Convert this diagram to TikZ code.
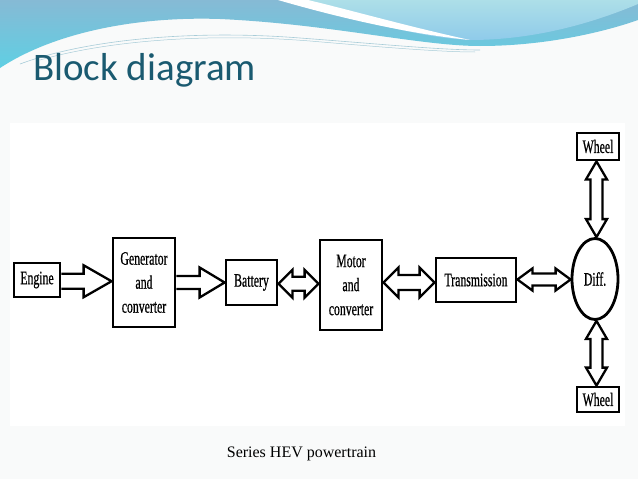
\documentclass[tikz,border=0pt]{standalone}
\usepackage{fontspec}
\setmainfont{Liberation Serif}
\newfontfamily\boxfont[FakeStretch=0.62,FakeBold=0.6]{Liberation Serif}
\newfontfamily\titlefont{Carlito}
\usetikzlibrary{shapes.geometric,calc}
\definecolor{titleblue}{HTML}{1A5A70}
\definecolor{slidebg}{HTML}{F9FAFA}
\definecolor{bandtop}{HTML}{86BAD5}
\definecolor{bandbot}{HTML}{5FCFE3}
\definecolor{lighttop}{HTML}{ADDFE8}
\definecolor{lightbot}{HTML}{8FCBEA}
\definecolor{thinline}{HTML}{A8CCD8}

% horizontal single block arrow: src, tgt, shaft half, head half, head length
\newcommand\hsingle[5]{%
  \draw[arr] let \p1=(#1.east), \p2=(#2.west), \p3=($(\p1)!.5!(\p2)$) in
    (\x1,\y3+#3) -- (\x2-#5,\y3+#3) -- (\x2-#5,\y3+#4) -- (\x2,\y3)
    -- (\x2-#5,\y3-#4) -- (\x2-#5,\y3-#3) -- (\x1,\y3-#3);}
% horizontal double block arrow
\newcommand\hdouble[5]{%
  \draw[arr] let \p1=(#1.east), \p2=(#2.west), \p3=($(\p1)!.5!(\p2)$) in
    (\x1,\y3) -- (\x1+#5,\y3+#4) -- (\x1+#5,\y3+#3) -- (\x2-#5,\y3+#3)
    -- (\x2-#5,\y3+#4) -- (\x2,\y3) -- (\x2-#5,\y3-#4) -- (\x2-#5,\y3-#3)
    -- (\x1+#5,\y3-#3) -- (\x1+#5,\y3-#4) -- cycle;}
% vertical double block arrow: upper node, lower node
\newcommand\vdouble[5]{%
  \draw[arr] let \p1=(#1.south), \p2=(#2.north), \p3=($(\p1)!.5!(\p2)$) in
    (\x3,\y1) -- (\x3+#4,\y1-#5) -- (\x3+#3,\y1-#5) -- (\x3+#3,\y2+#5)
    -- (\x3+#4,\y2+#5) -- (\x3,\y2) -- (\x3-#4,\y2+#5) -- (\x3-#3,\y2+#5)
    -- (\x3-#3,\y1-#5) -- (\x3-#4,\y1-#5) -- cycle;}

\begin{document}
\begin{tikzpicture}[x=1pt,y=-1pt,
  blk/.style={draw=black, line width=2.8pt, fill=white, inner sep=0pt,
    font=\boxfont\fontsize{19}{24}\selectfont, align=center},
  arr/.style={draw=black, line width=2.3pt, line join=miter, fill=white}]
\useasboundingbox (0,0) rectangle (638,479);
\fill[slidebg] (0,0) rectangle (638,479);
\fill[white] (10,123) rectangle (625,426);

% top waves
\shade[top color=bandtop, bottom color=bandbot]
  (0,68) .. controls (50,35) and (130,16) .. (220,19)
  .. controls (330,24) and (420,46) .. (480,46)
  .. controls (550,46) and (610,30) .. (638,20) -- (638,0) -- (0,0) -- cycle;
\shade[top color=lighttop, bottom color=lightbot]
  (290,0) .. controls (360,20) and (420,38) .. (470,40)
  .. controls (540,40) and (600,20) .. (638,4) -- (638,0) -- cycle;
\fill[white] (278,0) .. controls (340,18) and (410,34) .. (470,40)
  .. controls (410,27) and (350,10) .. (308,0) -- cycle;
\draw[thinline, line width=0.6pt] (20,64) .. controls (90,38) and (200,30) .. (300,38)
  .. controls (380,44) and (440,50) .. (480,50);
\draw[thinline, line width=0.5pt] (40,60) .. controls (110,40) and (210,33) .. (310,41)
  .. controls (380,47) and (440,52) .. (475,52);

\node[anchor=base west, inner sep=0pt, text=titleblue,
  font=\titlefont\fontsize{39}{39}\selectfont] (title) at (33,80) {Block diagram};

% blocks
\node[blk, minimum width=46pt, minimum height=34pt] (engine) at (37,280) {Engine};
\node[blk, minimum width=62pt, minimum height=89pt] (gen) at (144,282.5) {Generator\\and\\converter};
\node[blk, minimum width=51pt, minimum height=45pt] (battery) at (251.5,282.5) {Battery};
\node[blk, minimum width=62pt, minimum height=90pt] (motor) at (351,285) {Motor\\and\\converter};
\node[blk, minimum width=80pt, minimum height=44pt] (trans) at (476,280) {Transmission};
\node[blk, ellipse, minimum width=46pt, minimum height=81pt] (diff) at (595,279) {Diff.};
\node[blk, minimum width=42pt, minimum height=27pt] (wheeltop) at (598,146.5) {Wheel};
\node[blk, minimum width=42pt, minimum height=25pt] (wheelbot) at (598,399.5) {Wheel};

% arrows
\hsingle{engine}{gen}{7.5pt}{16pt}{28pt}
\hsingle{gen}{battery}{6.5pt}{15pt}{25pt}
\hdouble{battery}{motor}{7pt}{14pt}{14pt}
\hdouble{motor}{trans}{7.5pt}{15pt}{15pt}
\hdouble{trans}{diff}{6pt}{11pt}{15pt}
\vdouble{wheeltop}{diff}{6pt}{10.5pt}{18pt}
\vdouble{diff}{wheelbot}{6pt}{10.5pt}{18pt}

\node[anchor=base, inner sep=0pt, font=\fontsize{16}{16}\selectfont] (caption) at (301.5,457) {Series HEV powertrain};
\end{tikzpicture}
\end{document}
